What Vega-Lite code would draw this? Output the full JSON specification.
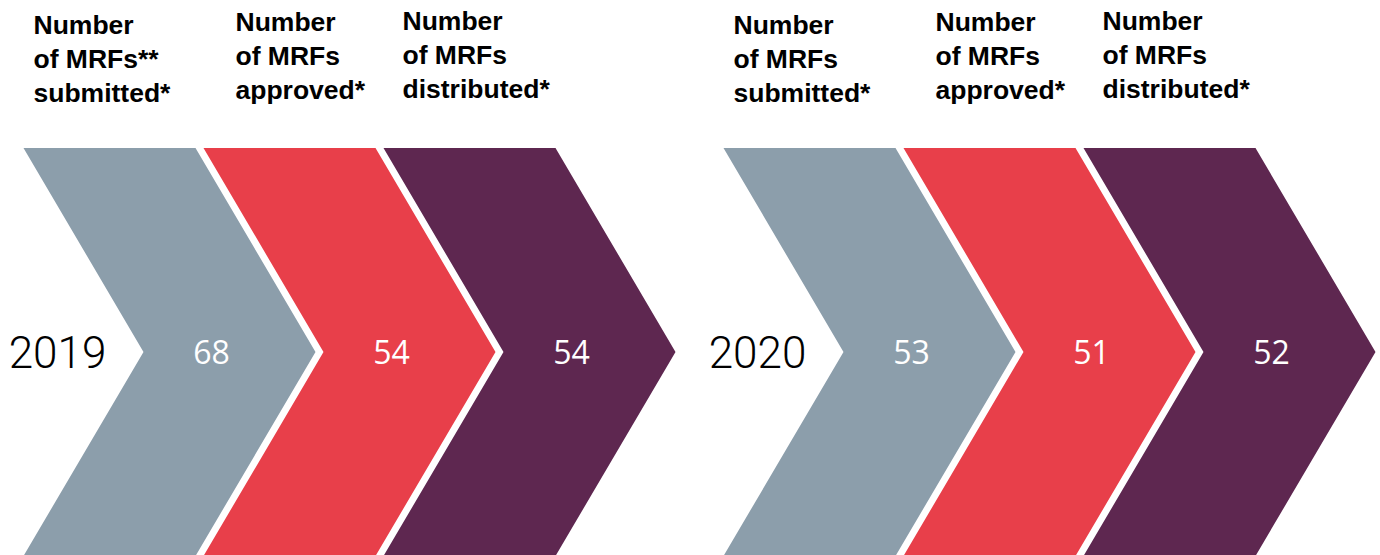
{
  "$schema": "https://vega.github.io/schema/vega-lite/v6.json",
  "width": 1380,
  "height": 406,
  "padding": {"left": 0, "right": 0, "top": 149, "bottom": 0},
  "autosize": {"type": "none"},
  "background": "white",
  "config": {"view": {"stroke": null}},
  "data": {
    "values": [
      {"year": "2019", "stage": "submitted", "value": 68, "header": "Number\nof MRFs**\nsubmitted*"},
      {"year": "2019", "stage": "approved", "value": 54, "header": "Number\nof MRFs\napproved*"},
      {"year": "2019", "stage": "distributed", "value": 54, "header": "Number\nof MRFs\ndistributed*"},
      {"year": "2020", "stage": "submitted", "value": 53, "header": "Number\nof MRFs\nsubmitted*"},
      {"year": "2020", "stage": "approved", "value": 51, "header": "Number\nof MRFs\napproved*"},
      {"year": "2020", "stage": "distributed", "value": 52, "header": "Number\nof MRFs\ndistributed*"}
    ]
  },
  "encoding": {
    "x": {"field": "year", "type": "nominal", "axis": null, "scale": {"type": "band", "domain": ["2019", "2020"], "range": [0, 1400], "paddingInner": 0, "paddingOuter": 0}},
    "xOffset": {"field": "stage", "type": "nominal", "scale": {"domain": ["submitted", "approved", "distributed"], "range": [169.5, 529.5], "paddingInner": 0, "paddingOuter": 0}}
  },
  "layer": [
    {
      "mark": {"type": "point", "shape": "M-0.7157,-1L0.1275,-1L0.7157,0L0.1275,1L-0.7157,1L-0.1275,0Z", "size": 166464, "filled": true, "opacity": 1, "strokeWidth": 0},
      "encoding": {
        "color": {"field": "stage", "type": "nominal", "legend": null, "scale": {"domain": ["submitted", "approved", "distributed"], "range": ["#8C9EAB", "#E83F4A", "#5E2750"]}}
      }
    },
    {
      "mark": {"type": "text", "dx": 42, "dy": 12, "align": "center", "baseline": "alphabetic", "font": "Open Sans", "fontSize": 32, "color": "white"},
      "encoding": {"text": {"field": "value", "type": "quantitative"}}
    },
    {
      "transform": [{"filter": "datum.stage == 'submitted'"}],
      "mark": {"type": "text", "dx": -112, "dy": 16, "align": "center", "baseline": "alphabetic", "font": "Roboto", "fontWeight": 300, "fontSize": 44, "color": "black"},
      "encoding": {"text": {"field": "year", "type": "nominal"}}
    },
    {
      "transform": [{"filter": "datum.stage == 'submitted'"}],
      "mark": {"type": "text", "dx": -136, "dy": -318, "align": "left", "baseline": "alphabetic", "font": "Liberation Sans", "fontWeight": "bold", "fontSize": 26.5, "lineHeight": 34, "lineBreak": "\n", "color": "black"},
      "encoding": {"text": {"field": "header", "type": "nominal"}}
    },
    {
      "transform": [{"filter": "datum.stage == 'approved'"}],
      "mark": {"type": "text", "dx": -114, "dy": -321, "align": "left", "baseline": "alphabetic", "font": "Liberation Sans", "fontWeight": "bold", "fontSize": 26.5, "lineHeight": 34, "lineBreak": "\n", "color": "black"},
      "encoding": {"text": {"field": "header", "type": "nominal"}}
    },
    {
      "transform": [{"filter": "datum.stage == 'distributed'"}],
      "mark": {"type": "text", "dx": -127, "dy": -322, "align": "left", "baseline": "alphabetic", "font": "Liberation Sans", "fontWeight": "bold", "fontSize": 26.5, "lineHeight": 34, "lineBreak": "\n", "color": "black"},
      "encoding": {"text": {"field": "header", "type": "nominal"}}
    }
  ]
}
